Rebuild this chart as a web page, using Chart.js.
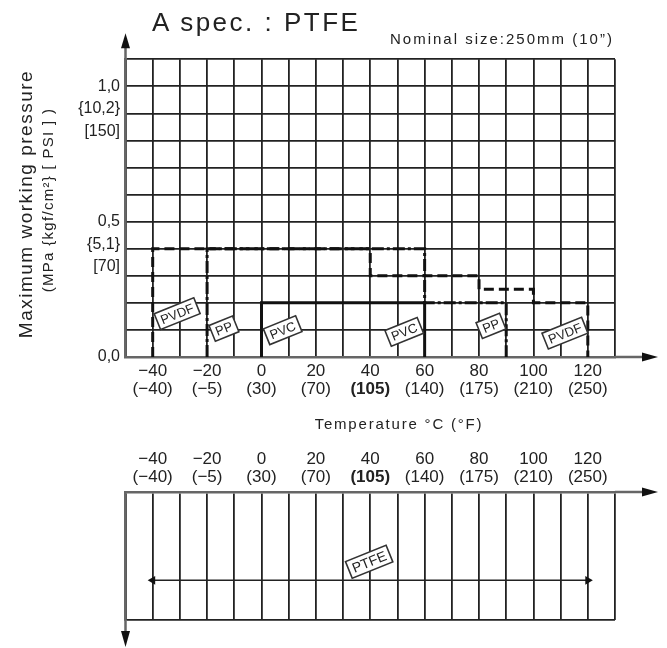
<!DOCTYPE html>
<html><head><meta charset="utf-8">
<script src="https://cdn.jsdelivr.net/npm/chart.js@4/dist/chart.umd.min.js"></script>
<style>
body{margin:0;background:#fff;width:667px;height:648px;overflow:hidden;position:relative;font-family:"Liberation Sans",Arial,sans-serif;color:#222}
canvas{position:absolute;left:0}
#cA{top:0;width:667px;height:435px}
#cB{top:435px;width:667px;height:213px}
.t{position:absolute;white-space:nowrap}
.r{transform:translate(-50%,-50%) rotate(-90deg)}
.c{transform:translate(-50%,-50%)}
</style></head><body>
<canvas id="cA" width="667" height="435"></canvas>
<canvas id="cB" width="667" height="213"></canvas>
<div class="t" style="left:152px;top:9px;font-size:26px;line-height:26px;letter-spacing:2.5px">A spec. : PTFE</div>
<div class="t" style="left:390px;top:31px;font-size:15px;line-height:15px;letter-spacing:2px">Nominal size:250mm (10”)</div>
<div class="t r" style="left:26px;top:204px;font-size:19px;letter-spacing:1.5px">Maximum working pressure</div>
<div class="t r" style="left:47px;top:200px;font-size:15px;letter-spacing:1.3px">(MPa {kgf/cm²} [ PSI ] )</div>
<div class="t c" style="left:399px;top:423px;font-size:15px;letter-spacing:1.8px">Temperature °C (°F)</div>
<script>
// ---- data ----
const tempTicksC = [-40, -20, 0, 20, 40, 60, 80, 100, 120];
const tempLabelsC = ['−40', '−20', '0', '20', '40', '60', '80', '100', '120'];
const tempLabelsF = ['(−40)', '(−5)', '(30)', '(70)', '(105)', '(140)', '(175)', '(210)', '(250)'];
const boldTemp = 40;
const pressTicks = [0, 0.5, 1.0];
const pressLabels = [['0,0', '', ''], ['0,5', '{5,1}', '[70]'], ['1,0', '{10,2}', '[150]']];

const pvdfTemp = [-40, -40, 40, 40, 80, 80, 100, 100, 120, 120];
const pvdfPress = [0, 0.4, 0.4, 0.3, 0.3, 0.25, 0.25, 0.2, 0.2, 0];
const ppTemp = [-20, -20, 60, 60, 90, 90];
const ppPress = [0, 0.4, 0.4, 0.2, 0.2, 0];
const pvcTemp = [0, 0, 60, 60];
const pvcPress = [0, 0.2, 0.2, 0];
const ptfeTemp = [-40, 120];
const ptfeLevel = [0.31, 0.31];

const tagNames = ['PVDF', 'PP', 'PVC', 'PVC', 'PP', 'PVDF'];
const tagTemp = [-31, -13.8, 7.8, 52.5, 84.4, 111.6];
const tagPress = [0.16, 0.105, 0.099, 0.093, 0.115, 0.088];
const ptfeTagNames = ['PTFE'];
const ptfeTagTemp = [39.6];
const ptfeTagLevel = [0.455];

// ---- helpers ----
const FONT = '"Liberation Sans", Arial, sans-serif';
const INK = '#222', AXIS = '#666';
const LH = 22.5;
const pts = (xs, ys) => xs.map((x, i) => ({x, y: ys[i]}));
const idx = v => tempTicksC.findIndex(t => Math.abs(t - v) < 1e-6);

function tagPlugin(names, xs, ys, size) {
  return {id: 'tags', afterDatasetsDraw(chart) {
    const {ctx, scales: {x, y}} = chart;
    ctx.save();
    ctx.font = size + 'px ' + FONT;
    names.forEach((n, i) => {
      const px = x.getPixelForValue(xs[i]), py = y.getPixelForValue(ys[i]);
      ctx.save();
      ctx.translate(px, py);
      ctx.rotate(-22 * Math.PI / 180);
      const w = ctx.measureText(n).width + 8, h = size + 4;
      ctx.fillStyle = '#fff';
      ctx.fillRect(-w / 2, -h / 2, w, h);
      ctx.strokeStyle = '#333'; ctx.lineWidth = 1.6;
      ctx.strokeRect(-w / 2, -h / 2, w, h);
      ctx.fillStyle = INK; ctx.textAlign = 'center'; ctx.textBaseline = 'middle';
      ctx.fillText(n, 0, 1);
      ctx.restore();
    });
    ctx.restore();
  }};
}
function arrowsPlugin(down) {
  return {id: 'arrows', afterDraw(chart) {
    const {ctx, chartArea: a} = chart;
    const yx = down ? a.top : a.bottom;
    ctx.save();
    ctx.strokeStyle = AXIS; ctx.fillStyle = '#111'; ctx.lineWidth = 2.5;
    ctx.beginPath(); ctx.moveTo(a.right, yx); ctx.lineTo(a.right + 30, yx); ctx.stroke();
    ctx.beginPath(); ctx.moveTo(a.right + 43, yx); ctx.lineTo(a.right + 27, yx - 4.5); ctx.lineTo(a.right + 27, yx + 4.5); ctx.closePath(); ctx.fill();
    if (!down) {
      ctx.beginPath(); ctx.moveTo(a.left, a.top); ctx.lineTo(a.left, a.top - 13); ctx.stroke();
      ctx.beginPath(); ctx.moveTo(a.left, a.top - 26); ctx.lineTo(a.left - 4.5, a.top - 11); ctx.lineTo(a.left + 4.5, a.top - 11); ctx.closePath(); ctx.fill();
    } else {
      ctx.beginPath(); ctx.moveTo(a.left, a.bottom); ctx.lineTo(a.left, a.bottom + 13); ctx.stroke();
      ctx.beginPath(); ctx.moveTo(a.left, a.bottom + 27); ctx.lineTo(a.left - 4.5, a.bottom + 11); ctx.lineTo(a.left + 4.5, a.bottom + 11); ctx.closePath(); ctx.fill();
    }
    ctx.restore();
  }};
}
const lineDs = (label, xs, ys, dash) => ({
  label, data: pts(xs, ys), showLine: true, borderColor: '#111', borderWidth: 3,
  borderDash: dash, pointRadius: 0, fill: false, tension: 0, clip: 4
});
const tempAxis = (pos, labels, bold, pad, h, main) => ({
  type: 'linear', position: pos, min: -50, max: 130,
  grid: main ? {color: INK, lineWidth: 1.8, drawTicks: false} : {display: false, drawTicks: false},
  border: main ? {color: AXIS, width: 2.5} : {display: false},
  ticks: {
    stepSize: 10, autoSkip: false, maxRotation: 0, padding: pad, color: INK,
    font: c => ({family: FONT, size: 17, weight: (bold && c.tick && c.tick.value === boldTemp) ? 'bold' : 'normal'}),
    callback: v => { const i = idx(v); return i >= 0 ? labels[i] : ''; }
  },
  afterFit: s => { s.height = h; }
});

Chart.defaults.font.family = FONT;

new Chart(document.getElementById('cA'), {
  type: 'scatter',
  data: {datasets: [
    lineDs('PVDF', pvdfTemp, pvdfPress, [10, 5]),
    lineDs('PP', ppTemp, ppPress, [12, 3, 3, 3]),
    lineDs('PVC', pvcTemp, pvcPress, [])
  ]},
  options: {
    responsive: false, animation: false, events: [],
    layout: {padding: {top: 59.3, right: 52, left: 0, bottom: 26}},
    plugins: {legend: {display: false}, tooltip: {enabled: false}},
    scales: {
      x: tempAxis('bottom', tempLabelsC, false, 4, 22, true),
      xF: tempAxis('bottom', tempLabelsF, true, 0, 30, false),
      y: {
        type: 'linear', min: 0, max: 1.1,
        grid: {color: INK, lineWidth: 1.8, drawTicks: false},
        border: {color: AXIS, width: 2.5},
        ticks: {
          stepSize: 0.1, autoSkip: false, padding: 5.5, color: INK,
          font: {family: FONT, size: 16, lineHeight: LH + 'px'},
          labelOffset: LH,
          callback: v => { const i = pressTicks.findIndex(p => Math.abs(p - v) < 1e-6); return i >= 0 ? pressLabels[i] : ''; }
        },
        afterFit: s => { s.width = 125.5; }
      }
    }
  },
  plugins: [tagPlugin(tagNames, tagTemp, tagPress, 13), arrowsPlugin(false)]
});

new Chart(document.getElementById('cB'), {
  type: 'scatter',
  data: {datasets: [{
    label: 'PTFE', data: pts(ptfeTemp, ptfeLevel), showLine: true, borderColor: INK, borderWidth: 1.6,
    pointStyle: 'triangle', pointRadius: 5, pointRotation: [-90, 90], pointBackgroundColor: '#111',
    pointBorderColor: '#111', pointBorderWidth: 0, clip: false
  }]},
  options: {
    responsive: false, animation: false, events: [],
    layout: {padding: {top: 2, right: 52, left: 0, bottom: 28}},
    plugins: {legend: {display: false}, tooltip: {enabled: false}},
    scales: {
      x: tempAxis('top', tempLabelsF, true, 4.8, 25, true),
      xC: tempAxis('top', tempLabelsC, false, -2.2, 30, false),
      y: {
        type: 'linear', min: 0, max: 1,
        grid: {color: INK, lineWidth: 1.8, drawTicks: false},
        border: {color: AXIS, width: 2.5},
        ticks: {stepSize: 1, display: false},
        afterFit: s => { s.width = 125.5; }
      }
    }
  },
  plugins: [tagPlugin(ptfeTagNames, ptfeTagTemp, ptfeTagLevel, 14), arrowsPlugin(true)]
});
</script>
</body></html>
